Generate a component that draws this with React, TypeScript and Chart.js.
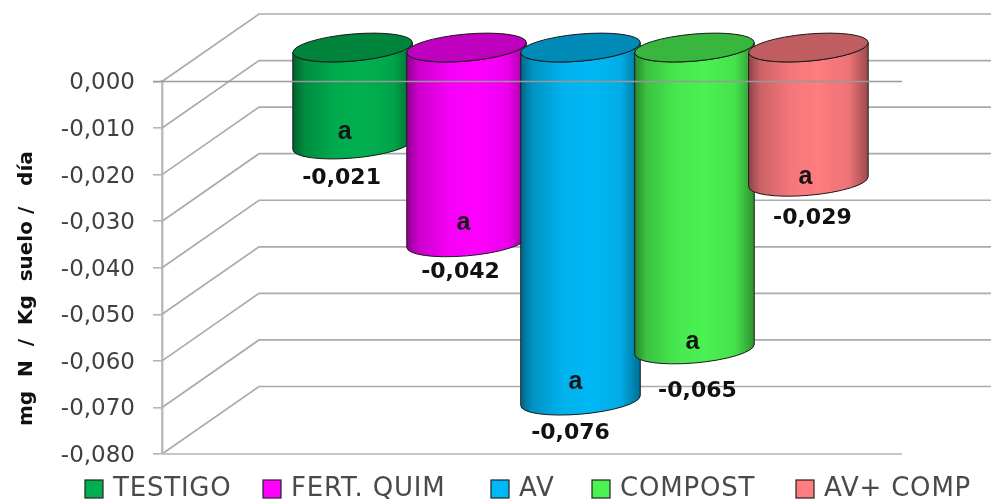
import { useEffect, useRef } from "react";
import { Chart, registerables } from "chart.js";

Chart.register(...registerables);

const groupLabel = ["Nitrificación"];
const seriesNames = ["TESTIGO", "FERT. QUIM", "AV", "COMPOST", "AV+ COMP"];
const seriesValues = [-0.021, -0.042, -0.076, -0.065, -0.029];
const significance = ["a", "a", "a", "a", "a"];
const seriesColors = ["#00B050", "#FF00FF", "#00B8F5", "#4AF252", "#FF7C80"];
const axisTitle = "mg  N  /  Kg  suelo /   día";

// Hand placed offsets of the text around each cylinder's foot
const valueNudge = [[-11, 34], [-6, 30], [-10, 33], [3, 42], [4, 36]];
const letterNudge = [[-8, -12], [-3, -19], [-5, -19], [-2, -7], [-3, -5]];
// Left edge of each legend swatch
const legendSlots = [85, 263, 491, 592, 796];

const DEPTH_X = 97;
const DEPTH_Y = -67.5;
const LIFT = -1;
const TILT = (-5 * Math.PI) / 180;
const RY = 13.5;
const comma = (v: number, d = 3) => v.toFixed(d).replace(".", ",");

function shade(hex: string, k: number) {
  const n = parseInt(hex.slice(1), 16);
  const c = [(n >> 16) & 255, (n >> 8) & 255, n & 255].map((v) => Math.round(v * k));
  return `rgb(${c[0]},${c[1]},${c[2]})`;
}

function drawCylinder(ctx: CanvasRenderingContext2D, cx: number, top: number, bottom: number, rx: number, color: string) {
  const t0 = Math.atan2(-RY * Math.sin(TILT), rx * Math.cos(TILT));
  const side = ctx.createLinearGradient(cx - rx, 0, cx + rx, 0);
  side.addColorStop(0, shade(color, 0.55));
  side.addColorStop(0.1, shade(color, 0.8));
  side.addColorStop(0.35, shade(color, 0.96));
  side.addColorStop(0.58, shade(color, 1));
  side.addColorStop(0.84, shade(color, 0.93));
  side.addColorStop(1, shade(color, 0.6));

  ctx.beginPath();
  ctx.ellipse(cx, top, rx, RY, TILT, t0 + Math.PI, t0, true);
  ctx.ellipse(cx, bottom, rx, RY, TILT, t0, t0 + Math.PI, false);
  ctx.closePath();
  ctx.fillStyle = side;
  ctx.fill();
  ctx.lineWidth = 1;
  ctx.strokeStyle = "#1a1a1a";
  ctx.stroke();

  ctx.beginPath();
  ctx.ellipse(cx, top, rx, RY, TILT, 0, Math.PI * 2);
  ctx.fillStyle = shade(color, 0.75);
  ctx.fill();
  ctx.stroke();
}

const cylinderPlugin = {
  id: "cylinders",
  // Replaces the flat bars with the walls, the cylinders and their labels
  beforeDatasetsDraw(chart: any) {
    const { ctx, chartArea, scales } = chart;
    const y = scales.y;
    ctx.save();

    ctx.strokeStyle = "#ababab";
    ctx.lineWidth = 1.7;
    for (const tick of y.ticks) {
      const py = y.getPixelForValue(tick.value);
      ctx.beginPath();
      ctx.moveTo(chartArea.left, py);
      ctx.lineTo(chartArea.left + DEPTH_X, py + DEPTH_Y);
      ctx.lineTo(chart.width, py + DEPTH_Y);
      ctx.stroke();
    }
    ctx.strokeStyle = "#c6c6c6";
    ctx.lineWidth = 2.2;
    ctx.beginPath();
    ctx.moveTo(chartArea.left, chartArea.bottom);
    ctx.lineTo(chartArea.right, chartArea.bottom);
    ctx.stroke();

    const bars = seriesValues.map((_, i) => chart.getDatasetMeta(i).data[0]);
    bars.forEach((bar: any, i: number) => {
      const shift = DEPTH_Y / 2 + LIFT;
      drawCylinder(ctx, bar.x + DEPTH_X / 2, bar.base + shift, bar.y + shift, bar.width / 2, seriesColors[i]);
    });

    // The zero line runs in front of the cylinders
    ctx.strokeStyle = "#999999";
    ctx.lineWidth = 1.5;
    ctx.beginPath();
    ctx.moveTo(chartArea.left - 9, y.getPixelForValue(0));
    ctx.lineTo(chartArea.right, y.getPixelForValue(0));
    ctx.stroke();

    ctx.textAlign = "center";
    ctx.textBaseline = "middle";
    bars.forEach((bar: any, i: number) => {
      const cx = bar.x + DEPTH_X / 2;
      const foot = bar.y + DEPTH_Y / 2 + LIFT;
      ctx.fillStyle = "#111111";
      ctx.font = "bold 22px 'DejaVu Sans'";
      ctx.fillText(comma(seriesValues[i]), cx + valueNudge[i][0], foot + valueNudge[i][1]);
      ctx.fillStyle = "#141414";
      ctx.font = "bold 25px 'Liberation Sans'";
      ctx.fillText(significance[i], cx + letterNudge[i][0], foot + letterNudge[i][1]);
    });

    // Legend row along the bottom edge
    ctx.textAlign = "left";
    ctx.font = "26px 'DejaVu Sans'";
    ctx.letterSpacing = "0.8px";
    seriesNames.forEach((name, i) => {
      const lx = legendSlots[i];
      ctx.fillStyle = seriesColors[i];
      ctx.fillRect(lx, 480, 18, 18);
      ctx.strokeStyle = "#222222";
      ctx.lineWidth = 1.2;
      ctx.strokeRect(lx, 480, 18, 18);
      ctx.fillStyle = "#4a4a4a";
      ctx.fillText(name, lx + 28, 489);
    });
    ctx.letterSpacing = "0px";

    ctx.restore();
    return false;
  },
};

export default function App() {
  const ref = useRef<HTMLCanvasElement>(null);

  useEffect(() => {
    if (!ref.current) return;
    const chart = new Chart(ref.current, {
      type: "bar",
      data: {
        labels: groupLabel,
        datasets: seriesNames.map((name, i) => ({
          label: name,
          data: [seriesValues[i]],
          backgroundColor: seriesColors[i],
        })),
      },
      options: {
        animation: false,
        responsive: false,
        layout: { padding: { top: 81.5, bottom: 48, left: 0, right: 89 } },
        datasets: { bar: { categoryPercentage: 0.77, barPercentage: 1.0526 } },
        plugins: { legend: { display: false }, tooltip: { enabled: false } },
        scales: {
          x: { display: false },
          y: {
            min: -0.08,
            max: 0,
            afterFit(scale: any) {
              scale.width = 162;
            },
            ticks: {
              stepSize: 0.01,
              padding: 18,
              labelOffset: 2,
              color: "#404040",
              font: { family: "'DejaVu Sans'", size: 23 },
              callback: (v: any) => comma(Number(v)),
            },
            grid: { drawOnChartArea: false, tickLength: 9, color: "#b4b4b4", lineWidth: 1.6 },
            border: { color: "#bdbdbd", width: 2.5 },
            title: {
              display: true,
              text: axisTitle + "      ",
              color: "#111111",
              padding: { top: 15, bottom: 0 },
              font: { family: "'DejaVu Sans'", size: 20, weight: "bold" },
            },
          },
        },
      },
      plugins: [cylinderPlugin],
    } as any);
    return () => chart.destroy();
  }, []);

  return (
    <div style={{ position: "absolute", left: 0, top: 0, width: 991, height: 502, background: "#fff" }}>
      <canvas ref={ref} width={991} height={502} style={{ display: "block" }} />
    </div>
  );
}
